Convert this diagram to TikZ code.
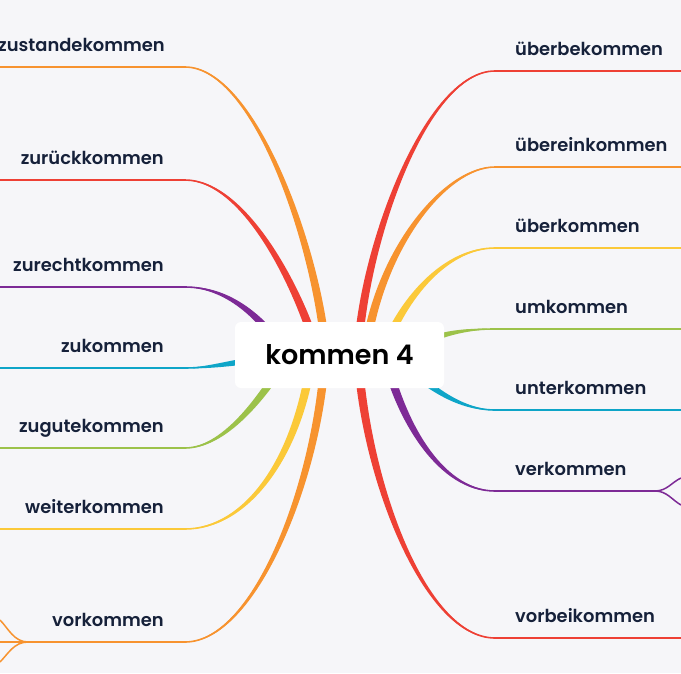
\documentclass[tikz,border=0pt]{standalone}
\usepackage{fontspec}
\setmainfont{Poppins}[BoldFont={Poppins SemiBold}]
\usetikzlibrary{calc}
\definecolor{bg}{HTML}{F6F6F9}
\definecolor{cor}{HTML}{F7932F}
\definecolor{cred}{HTML}{EE4035}
\definecolor{cpu}{HTML}{7D2A96}
\definecolor{ccy}{HTML}{0EA5C8}
\definecolor{cgr}{HTML}{9CC24A}
\definecolor{cye}{HTML}{FBC939}
\definecolor{ctxt}{HTML}{16213A}
% color, S, C1, C2, E, end-offset x,y, C1-offset x,y
\newcommand\mmbranch[9]{%
  \fill[#1] (#2) .. controls ($(#3)+(#8,#9)$) and ($(#4)+(#6,#7)$) .. ($(#5)+(#6,#7)$) -- ($(#5)-(#6,#7)$) .. controls ($(#4)-(#6,#7)$) and ($(#3)-(#8,#9)$) .. (#2) -- cycle;
  \draw[#1, line width=1.6] (#2) .. controls (#3) and (#4) .. (#5);
}
\tikzset{
  lbl/.style={font=\fontsize{17.9}{21}\selectfont\bfseries, text=ctxt, inner sep=0pt},
  uline/.style={line width=2},
  root/.style={fill=white, rounded corners=6, minimum width=209, minimum height=66, inner sep=0pt,
     font=\fontsize{27}{32}\selectfont\bfseries, text=black}
}
\begin{document}
\begin{tikzpicture}[x=1pt,y=-1pt]
\fill[bg] (0,0) rectangle (681,673);
\useasboundingbox (0,0) rectangle (681,673);
% left anchors
\coordinate (l1) at (185,67);
\coordinate (l2) at (185,180);
\coordinate (l3) at (185,287);
\coordinate (l4) at (185,368);
\coordinate (l5) at (185,448);
\coordinate (l6) at (185,529);
\coordinate (l7) at (185,642);
% right anchors
\coordinate (r1) at (495,71);
\coordinate (r2) at (495,167);
\coordinate (r3) at (495,248);
\coordinate (r4) at (495,329);
\coordinate (r5) at (495,410);
\coordinate (r6) at (495,491);
\coordinate (r7) at (495,638);
% left curves
\mmbranch{cor}{l1}{255,67}{318,250}{326,355}{4.3}{0}{0}{-2.4}
\mmbranch{cred}{l2}{245,180}{300,290}{318,355}{4.2}{-1.1}{0}{-2.4}
\mmbranch{cpu}{l3}{230,287}{265,320}{290,360}{3.6}{-2.3}{0}{-2.2}
\mmbranch{ccy}{l4}{215,368}{240,360}{280,358}{0}{3.8}{0}{1.6}
\mmbranch{cgr}{l5}{225,448}{265,395}{290,352}{3.6}{2.1}{0}{2.2}
\mmbranch{cye}{l6}{245,529}{298,460}{312,355}{4.3}{0.4}{0}{2.4}
\mmbranch{cor}{l7}{255,642}{318,480}{325,355}{4.3}{0}{0}{2.4}
% right curves
\mmbranch{cred}{r1}{425,71}{362,250}{358,355}{4.3}{0}{0}{2.4}
\mmbranch{cor}{r2}{445,167}{378,250}{365,355}{4.3}{0.4}{0}{2.4}
\mmbranch{cye}{r3}{445,248}{400,300}{380,360}{4}{1.3}{0}{2.2}
\mmbranch{cgr}{r4}{460,329}{430,335}{400,355}{2.2}{3.3}{0}{1.6}
\mmbranch{ccy}{r5}{455,410}{420,380}{395,355}{2.9}{-2.9}{0}{-2}
\mmbranch{cpu}{r6}{440,491}{400,420}{385,355}{4.2}{-1}{0}{-2.4}
\mmbranch{cred}{r7}{425,638}{365,480}{358,355}{4.3}{-0.2}{0}{-2.4}
% left underlines and labels
\coordinate (l1e) at (0,67);
\coordinate (l2e) at (0,180);
\coordinate (l3e) at (0,287);
\coordinate (l4e) at (0,368);
\coordinate (l5e) at (0,448);
\coordinate (l6e) at (0,529);
\coordinate (l7j) at (28,642);
\draw[cor,uline] (l1e) -- (l1);
\draw[cred,uline] (l2e) -- (l2);
\draw[cpu,uline] (l3e) -- (l3);
\draw[ccy,uline] (l4e) -- (l4);
\draw[cgr,uline] (l5e) -- (l5);
\draw[cye,uline] (l6e) -- (l6);
\draw[cor,uline] (l7j) -- (l7);
\coordinate (l7a) at (0,620);
\coordinate (l7b) at (0,642);
\coordinate (l7c) at (0,662);
\draw[cor,line width=1.5] (l7j) .. controls (14,642) and (8,628) .. (l7a);
\draw[cor,line width=1.5] (l7j) -- (l7b);
\draw[cor,line width=1.5] (l7j) .. controls (14,642) and (8,654) .. (l7c);
\node[lbl,anchor=base east] (t1) at (165,51) {zustandekommen};
\node[lbl,anchor=base east] (t2) at (164,164) {zurückkommen};
\node[lbl,anchor=base east] (t3) at (164,271) {zurechtkommen};
\node[lbl,anchor=base east] (t4) at (164,352) {zukommen};
\node[lbl,anchor=base east] (t5) at (164,432) {zugutekommen};
\node[lbl,anchor=base east] (t6) at (164,513) {weiterkommen};
\node[lbl,anchor=base east] (t7) at (164,626) {vorkommen};
% right underlines and labels
\coordinate (r1e) at (681,71);
\coordinate (r2e) at (681,167);
\coordinate (r3e) at (681,248);
\coordinate (r4e) at (681,329);
\coordinate (r5e) at (681,410);
\coordinate (r6j) at (655,491);
\coordinate (r7e) at (681,638);
\draw[cred,uline] (r1) -- (r1e);
\draw[cor,uline] (r2) -- (r2e);
\draw[cye,uline] (r3) -- (r3e);
\draw[cgr,uline] (r4) -- (r4e);
\draw[ccy,uline] (r5) -- (r5e);
\draw[cpu,uline] (r6) -- (r6j);
\draw[cred,uline] (r7) -- (r7e);
\coordinate (r6a) at (681,478);
\coordinate (r6b) at (681,505);
\draw[cpu,line width=1.5] (r6j) .. controls (667,491) and (672,482) .. (r6a);
\draw[cpu,line width=1.5] (r6j) .. controls (667,491) and (672,500) .. (r6b);
\node[lbl,anchor=base west] (u1) at (515,55) {überbekommen};
\node[lbl,anchor=base west] (u2) at (515,151) {übereinkommen};
\node[lbl,anchor=base west] (u3) at (515,232) {überkommen};
\node[lbl,anchor=base west] (u4) at (515,313) {umkommen};
\node[lbl,anchor=base west] (u5) at (515,394) {unterkommen};
\node[lbl,anchor=base west] (u6) at (515,475) {verkommen};
\node[lbl,anchor=base west] (u7) at (515,622) {vorbeikommen};
% root
\node[root] (root) at (339.5,355) {kommen 4};
\end{tikzpicture}
\end{document}
